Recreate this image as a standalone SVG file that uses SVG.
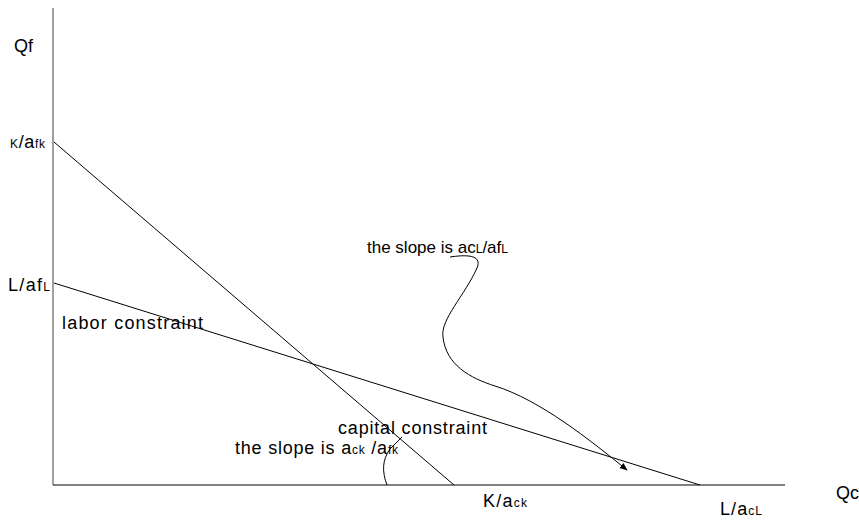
<svg xmlns="http://www.w3.org/2000/svg" width="859" height="520" viewBox="0 0 859 520">
<defs>
<style>
text{font-family:"Liberation Sans",Arial,sans-serif;fill:#000;font-size:18px}
.s{font-size:12px}
.m{font-size:17px}
.ax{stroke:#808080;stroke-width:1.5;fill:none}
.ln{stroke:#000;stroke-width:1;fill:none}
</style>
<marker id="ah" viewBox="0 0 10 10" refX="9" refY="5" markerWidth="8" markerHeight="8" orient="auto"><path d="M0,1 L10,5 L0,9 z" fill="#000"/></marker>
</defs>
<rect width="859" height="520" fill="#fff"/>
<g id="axes">
<line class="ax" x1="53" y1="8" x2="53" y2="485"/>
<line class="ln" x1="53" y1="485" x2="785" y2="485"/>
</g>
<g id="connectors">
<line id="capital" class="ln" x1="54" y1="142" x2="454" y2="485"/>
<line id="labor" class="ln" x1="54" y1="283" x2="700" y2="485"/>
<path class="ln" d="M450,257 C470,254 482,256 477,268 C465,295 440,320 443,337 C446,365 470,378 495,386 C540,400 590,440 627,470" marker-end="url(#ah)"/>
<path class="ln" d="M402,437 L390,449 C382,460 382,472 387,485"/>
</g>
<g id="labels">
<text x="14" y="52">Qf</text>
<text x="10" y="148" textLength="35"><tspan class="s">K</tspan>/a<tspan class="s">fk</tspan></text>
<text x="8" y="291" textLength="42">L/af<tspan class="s">L</tspan></text>
<text x="62" y="329" textLength="141">labor constraint</text>
<text class="m" x="367" y="253">the slope is ac<tspan class="s">L</tspan>/af<tspan class="s">L</tspan></text>
<text x="338" y="434" textLength="149">capital constraint</text>
<text x="235" y="454" textLength="163">the slope is a<tspan class="s">ck</tspan> /a<tspan class="s">fk</tspan></text>
<text x="483" y="507" textLength="44">K/a<tspan class="s">ck</tspan></text>
<text x="720" y="515" textLength="42">L/a<tspan class="s">cL</tspan></text>
<text x="836" y="499">Qc</text>
</g>
</svg>
